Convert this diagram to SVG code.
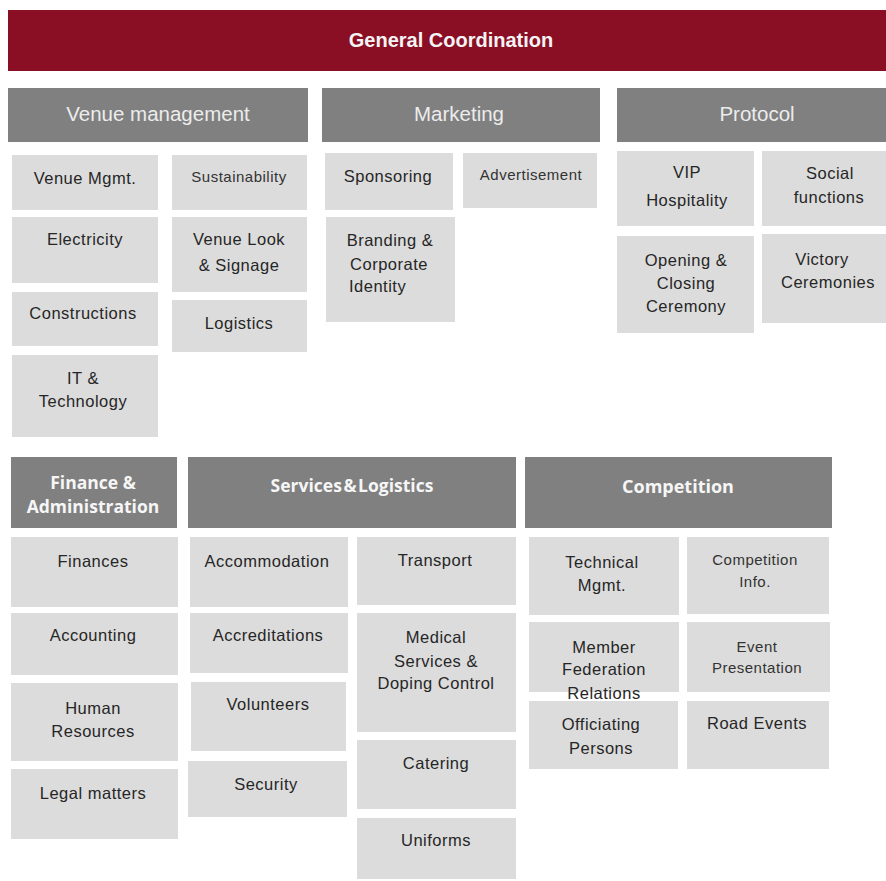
<svg xmlns="http://www.w3.org/2000/svg" width="886" height="881" viewBox="0 0 886 881">
  <style>
    .top { fill: #8a0e24; }
    .top-t { font-family: "Liberation Sans", Arial, sans-serif; font-weight: bold; font-size: 20px; fill: #f4f4f4; text-anchor: middle; }
    .hd { fill: #808080; }
    .hd-t { font-family: "Liberation Sans", Arial, sans-serif; font-size: 20.5px; fill: #ececec; text-anchor: middle; }
    .hd-b { font-family: "Open Sans", "Liberation Sans", sans-serif; font-weight: bold; font-size: 17.5px; fill: #f6f6f6; text-anchor: middle; }
    .bx { fill: #dcdcdc; }
    .t { font-family: "Liberation Sans", Arial, sans-serif; font-size: 16.5px; letter-spacing: 0.5px; fill: #262626; text-anchor: middle; }
    .s { font-size: 15px; fill: #333333; }
  </style>

  <rect width="886" height="881" fill="#ffffff"/>

  <!-- top bar -->
  <g id="general-coordination">
    <rect class="top" x="8" y="10" width="878" height="61"/>
    <text class="top-t" x="451" y="47">General Coordination</text>
  </g>

  <!-- ===== Venue management ===== -->
  <g id="venue-management">
    <rect class="hd" x="8" y="88" width="300" height="54"/>
    <text class="hd-t" x="158" y="121">Venue management</text>
  </g>
  <g id="venue-mgmt">
    <rect class="bx" x="12" y="155" width="146" height="55"/>
    <text class="t" x="85" y="184">Venue Mgmt.</text>
  </g>
  <g id="sustainability">
    <rect class="bx" x="172" y="155" width="135" height="55"/>
    <text class="t s" x="239" y="182">Sustainability</text>
  </g>
  <g id="electricity">
    <rect class="bx" x="12" y="217" width="146" height="66"/>
    <text class="t" x="85" y="245">Electricity</text>
  </g>
  <g id="venue-look">
    <rect class="bx" x="172" y="217" width="135" height="75"/>
    <text class="t" x="239" y="245">Venue Look</text>
    <text class="t" x="239" y="271">&amp; Signage</text>
  </g>
  <g id="constructions">
    <rect class="bx" x="12" y="292" width="146" height="54"/>
    <text class="t" x="83" y="319">Constructions</text>
  </g>
  <g id="logistics">
    <rect class="bx" x="172" y="300" width="135" height="52"/>
    <text class="t" x="239" y="329">Logistics</text>
  </g>
  <g id="it-technology">
    <rect class="bx" x="12" y="355" width="146" height="82"/>
    <text class="t" x="83" y="384">IT &amp;</text>
    <text class="t" x="83" y="407">Technology</text>
  </g>

  <!-- ===== Marketing ===== -->
  <g id="marketing">
    <rect class="hd" x="322" y="88" width="278" height="54"/>
    <text class="hd-t" x="459" y="121">Marketing</text>
  </g>
  <g id="sponsoring">
    <rect class="bx" x="325" y="153" width="128" height="57"/>
    <text class="t" x="388" y="182">Sponsoring</text>
  </g>
  <g id="advertisement">
    <rect class="bx" x="463" y="153" width="134" height="55"/>
    <text class="t s" x="531" y="180">Advertisement</text>
  </g>
  <g id="branding">
    <rect class="bx" x="326" y="217" width="129" height="105"/>
    <text class="t" x="390" y="246">Branding &amp;</text>
    <text class="t" x="389" y="270">Corporate</text>
    <text class="t" x="349" y="292" style="text-anchor:start">Identity</text>
  </g>

  <!-- ===== Protocol ===== -->
  <g id="protocol">
    <rect class="hd" x="617" y="88" width="269" height="54"/>
    <text class="hd-t" x="757" y="121">Protocol</text>
  </g>
  <g id="vip-hospitality">
    <rect class="bx" x="617" y="151" width="137" height="75"/>
    <text class="t" x="687" y="178">VIP</text>
    <text class="t" x="687" y="206">Hospitality</text>
  </g>
  <g id="social-functions">
    <rect class="bx" x="762" y="151" width="124" height="75"/>
    <text class="t" x="830" y="179">Social</text>
    <text class="t" x="829" y="203">functions</text>
  </g>
  <g id="opening-closing">
    <rect class="bx" x="617" y="236" width="137" height="97"/>
    <text class="t" x="686" y="266">Opening &amp;</text>
    <text class="t" x="686" y="289">Closing</text>
    <text class="t" x="686" y="312">Ceremony</text>
  </g>
  <g id="victory-ceremonies">
    <rect class="bx" x="762" y="234" width="124" height="89"/>
    <text class="t" x="822" y="265">Victory</text>
    <text class="t" x="828" y="288">Ceremonies</text>
  </g>

  <!-- ===== Finance & Administration ===== -->
  <g id="finance-administration">
    <rect class="hd" x="11" y="457" width="166" height="71"/>
    <text class="hd-b" x="93" y="489">Finance &amp;</text>
    <text class="hd-b" x="93" y="513">Administration</text>
  </g>
  <g id="finances">
    <rect class="bx" x="11" y="537" width="167" height="70"/>
    <text class="t" x="93" y="567">Finances</text>
  </g>
  <g id="accounting">
    <rect class="bx" x="11" y="613" width="167" height="62"/>
    <text class="t" x="93" y="641">Accounting</text>
  </g>
  <g id="human-resources">
    <rect class="bx" x="11" y="683" width="167" height="78"/>
    <text class="t" x="93" y="714">Human</text>
    <text class="t" x="93" y="737">Resources</text>
  </g>
  <g id="legal-matters">
    <rect class="bx" x="11" y="769" width="167" height="70"/>
    <text class="t" x="93" y="799">Legal matters</text>
  </g>

  <!-- ===== Services & Logistics ===== -->
  <g id="services-logistics">
    <rect class="hd" x="188" y="457" width="328" height="71"/>
    <text class="hd-b" x="352" y="492" style="word-spacing:-3px">Services &amp; Logistics</text>
  </g>
  <g id="accommodation">
    <rect class="bx" x="190" y="537" width="158" height="70"/>
    <text class="t" x="267" y="567">Accommodation</text>
  </g>
  <g id="accreditations">
    <rect class="bx" x="190" y="613" width="158" height="60"/>
    <text class="t" x="268" y="641">Accreditations</text>
  </g>
  <g id="volunteers">
    <rect class="bx" x="191" y="682" width="155" height="69"/>
    <text class="t" x="268" y="710">Volunteers</text>
  </g>
  <g id="security">
    <rect class="bx" x="188" y="761" width="159" height="56"/>
    <text class="t" x="266" y="790">Security</text>
  </g>
  <g id="transport">
    <rect class="bx" x="357" y="537" width="159" height="68"/>
    <text class="t" x="435" y="566">Transport</text>
  </g>
  <g id="medical-doping">
    <rect class="bx" x="357" y="613" width="159" height="119"/>
    <text class="t" x="436" y="643">Medical</text>
    <text class="t" x="436" y="667">Services &amp;</text>
    <text class="t" x="436" y="689">Doping Control</text>
  </g>
  <g id="catering">
    <rect class="bx" x="357" y="740" width="159" height="69"/>
    <text class="t" x="436" y="769">Catering</text>
  </g>
  <g id="uniforms">
    <rect class="bx" x="357" y="818" width="159" height="61"/>
    <text class="t" x="436" y="846">Uniforms</text>
  </g>

  <!-- ===== Competition ===== -->
  <g id="competition">
    <rect class="hd" x="525" y="457" width="307" height="71"/>
    <text class="hd-b" x="678" y="493" style="font-size:18px">Competition</text>
  </g>
  <g id="technical-mgmt">
    <rect class="bx" x="529" y="537" width="150" height="78"/>
    <text class="t" x="602" y="568">Technical</text>
    <text class="t" x="602" y="591">Mgmt.</text>
  </g>
  <g id="competition-info">
    <rect class="bx" x="687" y="537" width="142" height="77"/>
    <text class="t s" x="755" y="565">Competition</text>
    <text class="t s" x="755" y="587">Info.</text>
  </g>
  <g id="member-federation">
    <rect class="bx" x="529" y="622" width="150" height="70"/>
    <text class="t" x="604" y="653">Member</text>
    <text class="t" x="604" y="675">Federation</text>
    <text class="t" x="604" y="699">Relations</text>
  </g>
  <g id="event-presentation">
    <rect class="bx" x="687" y="622" width="143" height="70"/>
    <text class="t s" x="757" y="652">Event</text>
    <text class="t s" x="757" y="673">Presentation</text>
  </g>
  <g id="officiating-persons">
    <rect class="bx" x="529" y="701" width="149" height="68"/>
    <text class="t" x="601" y="730">Officiating</text>
    <text class="t" x="601" y="754">Persons</text>
  </g>
  <g id="road-events">
    <rect class="bx" x="687" y="701" width="142" height="68"/>
    <text class="t" x="757" y="729">Road Events</text>
  </g>
</svg>
